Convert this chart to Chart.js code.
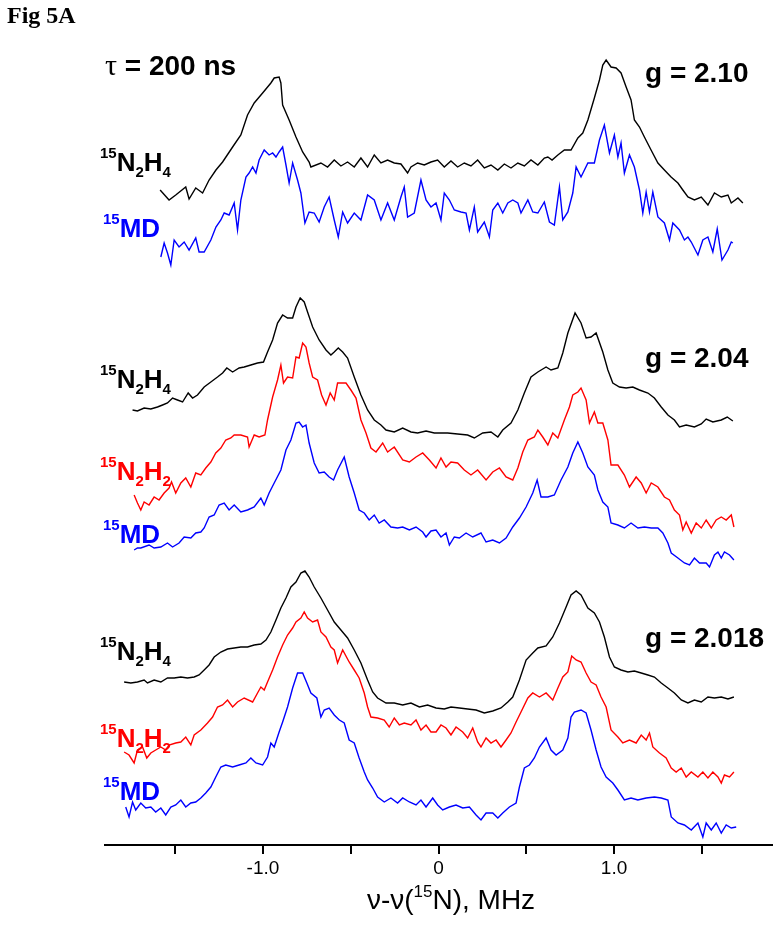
<!DOCTYPE html>
<html>
<head>
<meta charset="utf-8">
<script src="https://cdn.jsdelivr.net/npm/chart.js@4.4.0/dist/chart.umd.min.js"></script>
<style>
  body { margin: 0; background: #fff; }
  #wrap { position: relative; width: 778px; height: 925px; font-family: 'Liberation Sans', Arial, sans-serif; }
  #chart { position: absolute; left: 0; top: 0; }
  .lab { position: absolute; font-weight: bold; font-size: 26px; line-height: 26px; white-space: nowrap; }
  .lab .sup { font-size: 15px; position: relative; top: -13px; }
  .lab .sub { font-size: 15px; position: relative; top: 6px; }
  .big { font-size: 28px; line-height: 28px; }
  .tau { font-family: 'Liberation Serif', serif; font-weight: normal; font-size: 30px; }
  .fig { position: absolute; left: 7px; top: 3px; font: bold 24px/24px 'Liberation Serif', 'Times New Roman', serif; }
  .xtitle { position: absolute; left: 301px; width: 300px; top: 886px; text-align: center; font-size: 28px; line-height: 28px; white-space: nowrap; }
  .xtitle .sup { font-size: 17px; position: relative; top: -12px; }
  .k { color: #000; }
  .b { color: #0000ff; }
  .r { color: #ff0000; }
</style>
</head>
<body>
<div id="wrap">
  <canvas id="chart" width="778" height="925"></canvas>
  <div class="fig">Fig 5A</div>

  <div class="lab big" style="left:105px; top:51px;"><span class="tau">τ</span> = 200 ns</div>
  <div class="lab big" style="left:645px; top:59px;">g = 2.10</div>
  <div class="lab big" style="left:645px; top:344px;">g = 2.04</div>
  <div class="lab big" style="left:645px; top:624px;">g = 2.018</div>

  <div class="lab k" style="left:100px; top:149px;"><span class="sup">15</span>N<span class="sub">2</span>H<span class="sub">4</span></div>
  <div class="lab b" style="left:103px; top:215px;"><span class="sup">15</span>MD</div>

  <div class="lab k" style="left:100px; top:366px;"><span class="sup">15</span>N<span class="sub">2</span>H<span class="sub">4</span></div>
  <div class="lab r" style="left:100px; top:458px;"><span class="sup">15</span>N<span class="sub">2</span>H<span class="sub">2</span></div>
  <div class="lab b" style="left:103px; top:521px;"><span class="sup">15</span>MD</div>

  <div class="lab k" style="left:100px; top:638px;"><span class="sup">15</span>N<span class="sub">2</span>H<span class="sub">4</span></div>
  <div class="lab r" style="left:100px; top:725px;"><span class="sup">15</span>N<span class="sub">2</span>H<span class="sub">2</span></div>
  <div class="lab b" style="left:103px; top:778px;"><span class="sup">15</span>MD</div>

  <div class="xtitle">ν-ν(<span class="sup">15</span>N), MHz</div>
</div>
<script>
// ENDOR spectra, stacked traces. [frequency offset (MHz), intensity (a.u., offset included)]

// g = 2.10
const topN2H4 = [[-1.586,655],[-1.535,645],[-1.497,650],[-1.440,658],[-1.421,646],[-1.383,657],[-1.344,652],[-1.307,665],[-1.268,675],[-1.230,683],[-1.173,698],[-1.126,710],[-1.088,730],[-1.050,742],[-1.002,752],[-0.955,762],[-0.936,767],[-0.908,768],[-0.898,762],[-0.888,740],[-0.851,725],[-0.812,708],[-0.774,693],[-0.737,683],[-0.727,678],[-0.670,682],[-0.632,678],[-0.594,685],[-0.556,679],[-0.518,683],[-0.480,678],[-0.442,687],[-0.404,678],[-0.366,690],[-0.328,682],[-0.290,685],[-0.252,682],[-0.214,681],[-0.176,672],[-0.157,678],[-0.119,682],[-0.081,680],[-0.043,683],[-0.005,685],[0.033,678],[0.071,684],[0.109,678],[0.147,682],[0.185,679],[0.223,685],[0.261,677],[0.299,680],[0.338,675],[0.375,681],[0.413,677],[0.452,682],[0.489,679],[0.527,685],[0.566,680],[0.603,687],[0.623,688],[0.647,685],[0.680,690],[0.717,695],[0.755,695],[0.794,707],[0.822,712],[0.851,725],[0.888,747],[0.917,765],[0.936,780],[0.955,785],[0.983,778],[1.012,777],[1.040,772],[1.069,758],[1.097,745],[1.116,725],[1.145,718],[1.173,708],[1.211,695],[1.250,682],[1.287,675],[1.325,668],[1.364,662],[1.392,655],[1.421,648],[1.458,645],[1.497,648],[1.535,640],[1.572,652],[1.611,648],[1.649,650],[1.668,642],[1.706,647],[1.734,642]];
const topMD = [[-1.582,588],[-1.563,602],[-1.544,592],[-1.525,580],[-1.506,605],[-1.478,598],[-1.449,603],[-1.421,595],[-1.383,607],[-1.364,593],[-1.335,593],[-1.297,605],[-1.268,618],[-1.240,625],[-1.221,632],[-1.193,630],[-1.164,642],[-1.145,615],[-1.126,645],[-1.097,668],[-1.079,672],[-1.059,678],[-1.040,672],[-1.022,685],[-0.993,695],[-0.965,690],[-0.945,692],[-0.926,688],[-0.908,693],[-0.888,698],[-0.869,680],[-0.851,662],[-0.831,682],[-0.803,665],[-0.784,652],[-0.761,622],[-0.737,633],[-0.708,632],[-0.680,623],[-0.651,638],[-0.623,648],[-0.594,625],[-0.571,608],[-0.546,633],[-0.518,622],[-0.480,632],[-0.442,625],[-0.404,650],[-0.366,645],[-0.328,625],[-0.290,642],[-0.252,625],[-0.214,648],[-0.195,658],[-0.176,628],[-0.138,632],[-0.100,665],[-0.071,645],[-0.043,638],[-0.014,642],[0.014,625],[0.033,652],[0.062,645],[0.090,635],[0.128,633],[0.157,632],[0.176,615],[0.204,638],[0.223,613],[0.261,623],[0.290,608],[0.309,635],[0.338,642],[0.366,632],[0.395,642],[0.423,645],[0.452,642],[0.470,632],[0.509,645],[0.537,633],[0.566,632],[0.603,643],[0.632,623],[0.660,620],[0.689,658],[0.708,625],[0.737,633],[0.765,652],[0.784,678],[0.812,668],[0.851,682],[0.888,682],[0.917,705],[0.945,720],[0.974,692],[1.002,710],[1.022,688],[1.040,702],[1.059,672],[1.088,690],[1.116,678],[1.145,655],[1.164,632],[1.183,653],[1.202,633],[1.221,653],[1.250,628],[1.287,622],[1.316,605],[1.335,622],[1.373,615],[1.401,605],[1.421,608],[1.440,603],[1.478,590],[1.506,605],[1.535,608],[1.563,593],[1.588,616],[1.615,585],[1.649,595],[1.668,603],[1.677,602]];

// g = 2.04
const midN2H4 = [[-1.743,435],[-1.715,434],[-1.677,437],[-1.639,436],[-1.601,438],[-1.572,440],[-1.544,442],[-1.515,447],[-1.487,445],[-1.458,443],[-1.426,452],[-1.401,447],[-1.373,450],[-1.335,458],[-1.297,463],[-1.259,468],[-1.230,472],[-1.206,477],[-1.173,473],[-1.136,477],[-1.107,478],[-1.069,480],[-1.031,482],[-0.997,483],[-0.974,493],[-0.945,505],[-0.917,522],[-0.888,530],[-0.860,527],[-0.831,527],[-0.812,538],[-0.788,547],[-0.765,543],[-0.746,533],[-0.717,518],[-0.680,505],[-0.641,495],[-0.613,490],[-0.594,493],[-0.571,497],[-0.546,493],[-0.518,487],[-0.480,468],[-0.442,450],[-0.404,435],[-0.366,425],[-0.328,420],[-0.299,415],[-0.252,413],[-0.204,417],[-0.157,413],[-0.119,412],[-0.071,414],[-0.024,412],[0.052,412],[0.109,411],[0.166,410],[0.204,407],[0.252,412],[0.299,413],[0.338,408],[0.366,415],[0.413,422],[0.452,435],[0.489,452],[0.527,468],[0.566,473],[0.613,478],[0.641,475],[0.680,477],[0.708,492],[0.737,512],[0.778,532],[0.812,522],[0.841,507],[0.869,508],[0.898,512],[0.936,493],[0.965,475],[0.993,462],[1.031,458],[1.069,457],[1.107,458],[1.145,455],[1.193,452],[1.230,447],[1.269,438],[1.307,430],[1.344,425],[1.373,418],[1.411,420],[1.458,418],[1.497,421],[1.525,426],[1.563,423],[1.611,425],[1.645,428],[1.677,424]];
const midN2H2 = [[-1.734,350],[-1.715,342],[-1.696,335],[-1.677,343],[-1.649,340],[-1.620,348],[-1.592,345],[-1.563,352],[-1.535,357],[-1.521,363],[-1.497,352],[-1.468,362],[-1.440,367],[-1.411,358],[-1.383,372],[-1.354,370],[-1.326,377],[-1.297,383],[-1.269,392],[-1.240,397],[-1.212,405],[-1.183,407],[-1.164,410],[-1.126,410],[-1.088,408],[-1.079,398],[-1.050,410],[-1.022,408],[-0.989,410],[-0.974,425],[-0.945,448],[-0.917,465],[-0.898,480],[-0.883,462],[-0.860,468],[-0.831,467],[-0.812,488],[-0.794,487],[-0.774,502],[-0.755,498],[-0.737,482],[-0.717,468],[-0.689,465],[-0.666,450],[-0.641,440],[-0.617,452],[-0.594,445],[-0.575,462],[-0.527,462],[-0.499,455],[-0.470,447],[-0.442,425],[-0.413,412],[-0.385,397],[-0.356,393],[-0.318,402],[-0.290,393],[-0.252,398],[-0.204,385],[-0.166,383],[-0.128,388],[-0.090,392],[-0.052,385],[-0.014,377],[0.014,387],[0.043,378],[0.071,383],[0.109,382],[0.147,375],[0.185,370],[0.223,375],[0.271,365],[0.309,373],[0.347,377],[0.385,368],[0.423,365],[0.452,377],[0.480,393],[0.509,405],[0.546,408],[0.566,415],[0.594,408],[0.623,400],[0.651,412],[0.680,407],[0.717,425],[0.746,438],[0.765,450],[0.794,453],[0.812,457],[0.841,445],[0.860,422],[0.888,433],[0.908,422],[0.936,422],[0.965,405],[0.983,380],[1.022,380],[1.059,370],[1.088,358],[1.126,368],[1.155,362],[1.183,352],[1.212,362],[1.250,358],[1.287,348],[1.316,345],[1.344,335],[1.373,330],[1.392,315],[1.411,323],[1.440,312],[1.468,322],[1.497,317],[1.525,325],[1.554,317],[1.582,325],[1.611,328],[1.639,325],[1.668,330],[1.683,318]];
const midMD = [[-1.734,295],[-1.715,297],[-1.696,297],[-1.649,300],[-1.620,297],[-1.582,298],[-1.544,302],[-1.515,298],[-1.478,302],[-1.449,308],[-1.411,307],[-1.383,312],[-1.354,313],[-1.335,317],[-1.307,328],[-1.278,330],[-1.250,340],[-1.221,342],[-1.193,335],[-1.164,340],[-1.126,333],[-1.088,335],[-1.050,338],[-1.012,347],[-0.993,340],[-0.965,352],[-0.936,362],[-0.898,375],[-0.869,395],[-0.841,405],[-0.812,422],[-0.794,423],[-0.774,418],[-0.755,420],[-0.737,402],[-0.708,382],[-0.680,372],[-0.651,373],[-0.623,368],[-0.598,365],[-0.575,375],[-0.537,388],[-0.509,368],[-0.480,352],[-0.452,335],[-0.423,332],[-0.395,325],[-0.366,330],[-0.338,322],[-0.309,325],[-0.271,318],[-0.233,317],[-0.204,318],[-0.166,315],[-0.128,318],[-0.090,313],[-0.071,308],[-0.043,314],[-0.014,315],[0.014,308],[0.043,312],[0.062,300],[0.090,308],[0.119,307],[0.157,312],[0.195,308],[0.242,312],[0.271,303],[0.309,305],[0.347,302],[0.385,307],[0.423,318],[0.461,327],[0.499,338],[0.537,352],[0.562,365],[0.584,348],[0.623,348],[0.660,350],[0.698,365],[0.737,378],[0.765,392],[0.794,403],[0.822,392],[0.851,378],[0.888,370],[0.908,355],[0.936,343],[0.965,338],[0.983,322],[1.022,320],[1.059,317],[1.097,322],[1.136,317],[1.173,318],[1.212,317],[1.250,317],[1.278,312],[1.307,302],[1.326,292],[1.364,287],[1.401,282],[1.430,280],[1.458,287],[1.487,282],[1.525,282],[1.544,278],[1.572,290],[1.592,293],[1.611,287],[1.629,293],[1.658,290],[1.683,285]];

// g = 2.018
const lowN2H4 = [[-1.791,163],[-1.753,162],[-1.715,163],[-1.677,165],[-1.658,162],[-1.620,165],[-1.582,163],[-1.544,167],[-1.506,167],[-1.468,168],[-1.430,167],[-1.392,168],[-1.364,170],[-1.335,175],[-1.307,180],[-1.278,188],[-1.240,193],[-1.202,196],[-1.164,197],[-1.126,198],[-1.088,198],[-1.050,200],[-1.012,201],[-0.983,205],[-0.955,213],[-0.926,225],[-0.898,237],[-0.869,247],[-0.841,258],[-0.812,263],[-0.784,272],[-0.761,274],[-0.737,268],[-0.708,258],[-0.670,247],[-0.632,235],[-0.594,223],[-0.556,215],[-0.518,207],[-0.480,195],[-0.442,182],[-0.404,165],[-0.375,153],[-0.347,147],[-0.299,142],[-0.252,142],[-0.204,140],[-0.157,142],[-0.109,138],[-0.062,140],[-0.014,137],[0.033,136],[0.071,138],[0.119,137],[0.166,136],[0.214,135],[0.261,132],[0.309,134],[0.356,137],[0.395,143],[0.423,148],[0.461,165],[0.499,185],[0.537,192],[0.566,197],[0.613,199],[0.651,208],[0.689,222],[0.727,238],[0.755,250],[0.784,254],[0.812,250],[0.851,237],[0.888,232],[0.917,223],[0.945,208],[0.974,188],[1.002,178],[1.040,175],[1.079,173],[1.116,174],[1.155,172],[1.193,170],[1.230,168],[1.269,162],[1.307,157],[1.344,152],[1.383,145],[1.421,142],[1.458,145],[1.497,143],[1.535,148],[1.572,147],[1.611,148],[1.649,146],[1.683,148]];
const lowN2H2 = [[-1.791,93],[-1.763,90],[-1.734,82],[-1.715,95],[-1.686,98],[-1.662,87],[-1.639,92],[-1.611,95],[-1.582,98],[-1.554,95],[-1.535,100],[-1.497,102],[-1.468,103],[-1.440,108],[-1.411,100],[-1.392,110],[-1.354,115],[-1.316,122],[-1.287,128],[-1.259,138],[-1.230,140],[-1.202,145],[-1.173,138],[-1.145,143],[-1.107,147],[-1.059,143],[-1.031,152],[-1.012,158],[-0.993,155],[-0.974,163],[-0.945,175],[-0.917,188],[-0.888,200],[-0.860,210],[-0.831,217],[-0.812,223],[-0.784,227],[-0.765,233],[-0.746,227],[-0.717,223],[-0.689,225],[-0.670,213],[-0.641,208],[-0.613,198],[-0.594,195],[-0.575,182],[-0.546,195],[-0.509,183],[-0.480,175],[-0.452,167],[-0.423,152],[-0.404,138],[-0.385,128],[-0.347,127],[-0.309,125],[-0.281,118],[-0.252,127],[-0.223,120],[-0.195,122],[-0.157,120],[-0.128,125],[-0.100,115],[-0.071,120],[-0.043,113],[-0.014,113],[0.014,120],[0.043,117],[0.071,110],[0.100,118],[0.138,113],[0.166,107],[0.195,117],[0.223,103],[0.242,98],[0.271,107],[0.299,102],[0.328,105],[0.356,98],[0.385,105],[0.413,112],[0.442,123],[0.470,133],[0.509,147],[0.537,152],[0.575,148],[0.613,152],[0.651,145],[0.680,157],[0.708,168],[0.737,173],[0.759,189],[0.784,185],[0.812,183],[0.841,172],[0.869,163],[0.898,160],[0.926,148],[0.955,138],[0.983,115],[1.022,108],[1.050,102],[1.088,105],[1.126,102],[1.155,110],[1.183,105],[1.202,112],[1.221,98],[1.259,92],[1.297,87],[1.326,77],[1.354,73],[1.383,77],[1.411,68],[1.440,73],[1.478,68],[1.506,73],[1.535,67],[1.563,73],[1.592,68],[1.611,62],[1.629,70],[1.658,68],[1.683,73]];
const lowMD = [[-1.782,38],[-1.763,28],[-1.743,43],[-1.725,35],[-1.696,42],[-1.668,37],[-1.639,38],[-1.611,33],[-1.582,37],[-1.554,30],[-1.525,38],[-1.497,40],[-1.468,45],[-1.440,38],[-1.411,42],[-1.383,43],[-1.354,47],[-1.326,52],[-1.297,58],[-1.269,68],[-1.240,78],[-1.212,80],[-1.173,78],[-1.136,80],[-1.097,82],[-1.069,87],[-1.040,82],[-1.002,80],[-0.974,88],[-0.955,102],[-0.936,98],[-0.908,113],[-0.888,123],[-0.860,138],[-0.831,157],[-0.803,172],[-0.774,172],[-0.750,162],[-0.727,152],[-0.693,147],[-0.670,128],[-0.651,135],[-0.623,137],[-0.594,130],[-0.565,125],[-0.537,122],[-0.509,105],[-0.480,102],[-0.452,87],[-0.423,73],[-0.404,65],[-0.375,57],[-0.347,48],[-0.309,43],[-0.271,47],[-0.233,42],[-0.204,47],[-0.166,43],[-0.128,40],[-0.100,45],[-0.071,38],[-0.033,47],[-0.005,40],[0.024,35],[0.062,38],[0.100,40],[0.138,37],[0.176,38],[0.214,30],[0.242,25],[0.271,32],[0.309,32],[0.338,27],[0.366,32],[0.404,38],[0.442,42],[0.461,58],[0.489,77],[0.518,80],[0.546,87],[0.575,98],[0.613,107],[0.641,95],[0.670,90],[0.708,95],[0.737,107],[0.755,128],[0.774,133],[0.812,135],[0.841,132],[0.869,115],[0.898,95],[0.926,78],[0.955,68],[0.993,62],[1.022,55],[1.059,45],[1.097,47],[1.136,45],[1.183,47],[1.230,48],[1.269,47],[1.307,45],[1.326,28],[1.364,22],[1.401,20],[1.440,15],[1.478,22],[1.506,8],[1.525,22],[1.554,15],[1.582,22],[1.611,12],[1.639,20],[1.668,17],[1.696,18]];

const tickValues = [-1.5, -1.0, -0.5, 0, 0.5, 1.0, 1.5];
const tickLabels = ['', '-1.0', '', '0', '', '1.0', ''];

const traces = [
  { data: topN2H4, color: '#000000' },
  { data: topMD, color: '#0000ff' },
  { data: midN2H4, color: '#000000' },
  { data: midN2H2, color: '#ff0000' },
  { data: midMD, color: '#0000ff' },
  { data: lowN2H4, color: '#000000' },
  { data: lowN2H2, color: '#ff0000' },
  { data: lowMD, color: '#0000ff' }
];

const ctx = document.getElementById('chart').getContext('2d');
new Chart(ctx, {
  type: 'line',
  data: {
    datasets: traces.map(t => ({
      data: t.data.map(p => ({ x: p[0], y: p[1] })),
      borderColor: t.color,
      borderWidth: 1.4,
      pointRadius: 0,
      tension: 0,
      fill: false
    }))
  },
  options: {
    responsive: false,
    animation: false,
    devicePixelRatio: 1,
    layout: { padding: { left: 105, right: 6, top: 45, bottom: 0 } },
    plugins: { legend: { display: false }, tooltip: { enabled: false } },
    scales: {
      x: {
        type: 'linear',
        min: -1.9,
        max: 1.9,
        afterBuildTicks: s => { s.ticks = tickValues.map(v => ({ value: v })); },
        afterFit: s => { s.height = 80; },
        grid: { drawOnChartArea: false, drawTicks: true, tickLength: 9, color: '#000', lineWidth: 2 },
        border: { display: true, color: '#000', width: 2 },
        ticks: {
          color: '#000',
          autoSkip: false,
          maxRotation: 0,
          padding: 3,
          font: { family: "'Liberation Sans', Arial, sans-serif", size: 19 },
          callback: (v, i) => tickLabels[i]
        }
      },
      y: { display: false, min: 0, max: 800 }
    }
  }
});
</script>
</body>
</html>
